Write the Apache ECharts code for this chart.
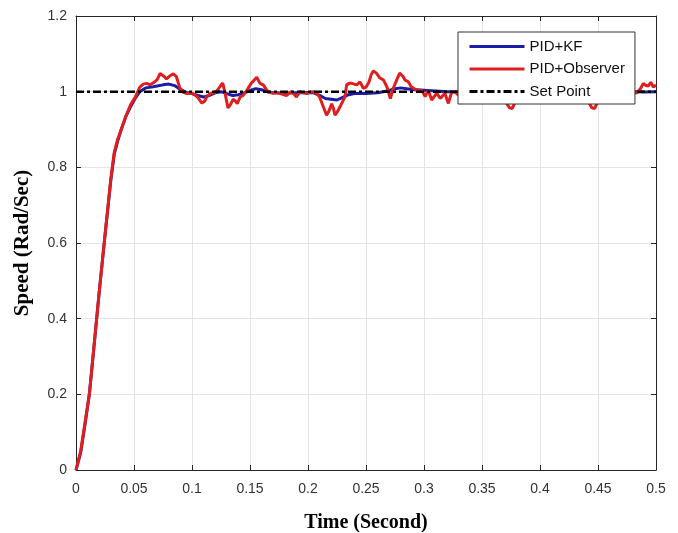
<!DOCTYPE html>
<html>
<head>
<meta charset="utf-8">
<script src="https://cdn.jsdelivr.net/npm/echarts@6/dist/echarts.min.js"></script>
<style>
html,body{margin:0;padding:0;background:#fff;}
#chart{width:678px;height:533px;}
</style>
</head>
<body>
<div id="chart"></div>
<script>
var seriesNames = ['PID+KF', 'PID+Observer', 'Set Point'];
var xTickValues = [0, 0.05, 0.1, 0.15, 0.2, 0.25, 0.3, 0.35, 0.4, 0.45, 0.5];
var yTickValues = [0, 0.2, 0.4, 0.6, 0.8, 1, 1.2];

var obsTime = [0,0.004,0.008,0.0115,0.015,0.02,0.025,0.03,0.033,0.036,0.039,0.043,0.047,0.051,0.055,0.058,0.061,0.064,0.067,0.07,0.0725,0.074,0.076,0.078,0.081,0.084,0.0865,0.0895,0.0925,0.0955,0.099,0.102,0.105,0.1085,0.111,0.113,0.116,0.119,0.122,0.1245,0.1265,0.1285,0.131,0.133,0.1355,0.1375,0.139,0.1415,0.144,0.147,0.149,0.151,0.1535,0.1558,0.1586,0.1615,0.164,0.166,0.17,0.173,0.176,0.179,0.1816,0.184,0.186,0.188,0.19,0.193,0.196,0.199,0.202,0.2046,0.2075,0.21,0.2132,0.216,0.218,0.2204,0.222,0.2233,0.2255,0.2276,0.23,0.2319,0.2333,0.2355,0.2377,0.24,0.242,0.2448,0.2477,0.25,0.2525,0.2545,0.2563,0.259,0.262,0.265,0.268,0.271,0.2735,0.2765,0.279,0.282,0.2836,0.2865,0.289,0.2937,0.298,0.301,0.3037,0.3066,0.311,0.314,0.318,0.321,0.324,0.327,0.33,0.335,0.34,0.345,0.35,0.355,0.36,0.365,0.37,0.3735,0.376,0.379,0.383,0.388,0.393,0.398,0.403,0.408,0.413,0.418,0.423,0.428,0.433,0.438,0.442,0.4445,0.447,0.45,0.455,0.46,0.465,0.47,0.475,0.48,0.484,0.487,0.489,0.491,0.4934,0.4955,0.4977,0.5];
var obsSpeed = [0,0.05,0.13,0.2,0.31,0.47,0.62,0.77,0.84,0.875,0.9,0.935,0.965,0.985,1.012,1.02,1.022,1.018,1.024,1.032,1.048,1.052,1.04,1.034,1.042,1.047,1.04,1.01,0.998,0.995,0.997,0.993,0.985,0.97,0.975,0.988,0.995,0.997,1.004,1.015,1.023,0.996,0.957,0.965,0.98,0.975,0.968,0.986,0.99,1.002,1.012,1.022,1.03,1.038,1.022,1.018,1.006,0.999,0.996,0.998,0.995,0.992,0.99,0.997,1.0,0.993,0.986,1.0,0.997,0.995,0.999,1.0,0.995,0.986,0.96,0.938,0.948,0.968,0.955,0.938,0.948,0.96,0.975,0.987,1.018,1.022,1.022,1.02,1.018,1.026,1.009,1.012,1.025,1.045,1.055,1.049,1.036,1.031,1.013,0.982,1.009,1.031,1.049,1.04,1.031,1.026,1.013,1.004,1.004,0.987,1.004,0.978,0.996,0.982,0.996,0.969,1.0,0.998,0.99,1.01,1.0,0.985,1.005,1.02,1.0,0.985,0.975,0.958,0.955,0.975,0.995,1.015,1.01,0.99,1.005,1.025,1.01,0.99,0.995,1.01,1.0,0.985,0.972,0.958,0.955,0.975,0.995,1.01,1.0,0.99,1.005,0.995,0.998,1.01,1.022,1.017,1.015,1.025,1.012,1.018];

var kfTime = [0,0.004,0.008,0.0115,0.015,0.02,0.025,0.03,0.033,0.036,0.039,0.043,0.047,0.051,0.055,0.06,0.065,0.07,0.075,0.08,0.085,0.09,0.095,0.1,0.105,0.11,0.115,0.12,0.125,0.13,0.135,0.14,0.145,0.15,0.155,0.16,0.165,0.17,0.18,0.19,0.2,0.205,0.21,0.215,0.22,0.225,0.23,0.235,0.24,0.25,0.26,0.265,0.27,0.275,0.28,0.285,0.29,0.3,0.31,0.32,0.33,0.35,0.37,0.39,0.41,0.43,0.45,0.47,0.49,0.5];
var kfSpeed = [0,0.045,0.125,0.2,0.31,0.47,0.62,0.765,0.835,0.87,0.9,0.935,0.96,0.982,1.0,1.01,1.012,1.015,1.018,1.02,1.016,1.006,0.998,0.995,0.99,0.986,0.99,0.997,1.0,0.995,0.99,0.992,0.997,1.003,1.008,1.005,1.0,0.997,0.996,0.997,0.998,0.997,0.99,0.982,0.98,0.978,0.985,0.992,0.995,0.995,0.997,1.0,1.003,1.008,1.01,1.008,1.006,1.004,1.002,1.0,1.0,1.002,0.998,1.0,1.002,0.999,1.0,1.001,0.999,1.0];

var setTime = [0, 0.5];
var setSpeed = [1, 1];

function zip(a, b) {
  var n = Math.min(a.length, b.length), out = [];
  for (var i = 0; i < n; i++) out.push([a[i], b[i]]);
  return out;
}
function fmt(v) { return String(parseFloat(Number(v).toFixed(2))); }

var chart = echarts.init(document.getElementById('chart'), null, {renderer: 'canvas'});
var axisColor = '#262626';
var gridColor = '#e4e4e4';
var option = {
  animation: false,
  backgroundColor: '#ffffff',
  grid: {left: 76, right: 22, top: 16, bottom: 63, containLabel: false, outerBoundsMode: 'none'},
  legend: {
    orient: 'vertical',
    left: 458, top: 32,
    backgroundColor: '#ffffff',
    borderColor: '#333333', borderWidth: 1,
    padding: [7, 10, 5, 10],
    itemWidth: 55, itemHeight: 14, itemGap: 7.5,
    itemStyle: {opacity: 0},
    lineStyle: {width: 3},
    textStyle: {fontFamily: 'Liberation Sans, Arial, sans-serif', fontSize: 15, color: '#111'},
    data: seriesNames
  },
  xAxis: [{
    type: 'value', min: 0, max: 0.5, interval: 0.05, position: 'bottom',
    axisLine: {show: true, onZero: false, lineStyle: {color: axisColor, width: 1}},
    axisTick: {show: true, inside: true, length: 5, lineStyle: {color: axisColor}},
    axisLabel: {margin: 12, fontSize: 14, color: '#333', fontFamily: 'Liberation Sans, Arial, sans-serif', formatter: fmt},
    splitLine: {show: true, lineStyle: {color: gridColor, width: 1}},
    name: 'Time (Second)', nameLocation: 'middle', nameGap: 43,
    nameTextStyle: {fontFamily: 'Liberation Serif, Times New Roman, serif', fontWeight: 'bold', fontSize: 20, color: '#000'}
  }, {
    type: 'value', min: 0, max: 0.5, interval: 0.05, position: 'top',
    axisLine: {show: true, onZero: false, lineStyle: {color: axisColor, width: 1}},
    axisTick: {show: true, inside: true, length: 5, lineStyle: {color: axisColor}},
    axisLabel: {show: false}, splitLine: {show: false}
  }],
  yAxis: [{
    type: 'value', min: 0, max: 1.2, interval: 0.2, position: 'left',
    axisLine: {show: true, onZero: false, lineStyle: {color: axisColor, width: 1}},
    axisTick: {show: true, inside: true, length: 5, lineStyle: {color: axisColor}},
    axisLabel: {margin: 9, fontSize: 14, color: '#333', fontFamily: 'Liberation Sans, Arial, sans-serif', formatter: fmt},
    splitLine: {show: true, lineStyle: {color: gridColor, width: 1}},
    name: 'Speed (Rad/Sec)', nameLocation: 'middle', nameGap: 43,
    nameTextStyle: {fontFamily: 'Liberation Serif, Times New Roman, serif', fontWeight: 'bold', fontSize: 21, color: '#000'}
  }, {
    type: 'value', min: 0, max: 1.2, interval: 0.2, position: 'right',
    axisLine: {show: true, onZero: false, lineStyle: {color: axisColor, width: 1}},
    axisTick: {show: true, inside: true, length: 5, lineStyle: {color: axisColor}},
    axisLabel: {show: false}, splitLine: {show: false}
  }],
  series: [{
    name: seriesNames[0], type: 'line', symbol: 'none', showSymbol: false,
    data: zip(kfTime, kfSpeed),
    itemStyle: {color: '#1c1ca6'},
    lineStyle: {color: '#1c1ca6', width: 3}
  }, {
    name: seriesNames[1], type: 'line', symbol: 'none', showSymbol: false,
    data: zip(obsTime, obsSpeed),
    itemStyle: {color: '#e01e1e'},
    lineStyle: {color: '#e01e1e', width: 3}
  }, {
    name: seriesNames[2], type: 'line', symbol: 'none', showSymbol: false,
    data: zip(setTime, setSpeed),
    itemStyle: {color: '#000'},
    lineStyle: {color: '#000', width: 2.5, type: [8, 3, 3, 3]}
  }]
};
chart.setOption(option);
</script>
</body>
</html>
